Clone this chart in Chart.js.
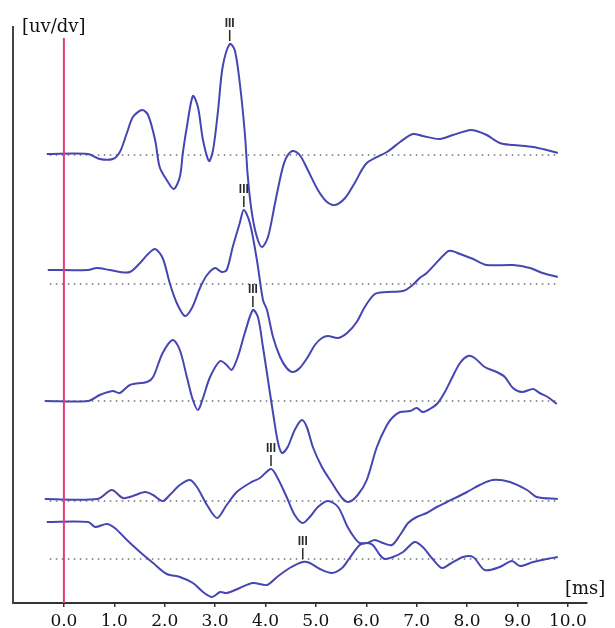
<!DOCTYPE html>
<html>
<head>
<meta charset="utf-8">
<script src="https://cdn.jsdelivr.net/npm/chart.js@4"></script>
<style>
  html, body { margin: 0; padding: 0; background: #ffffff; }
  #wrap { position: relative; width: 615px; height: 628px; }
</style>
</head>
<body>
<div id="wrap"><canvas id="c" width="615" height="628"></canvas></div>
<script>
// ---- Data (latency in ms, amplitude in arbitrary µV/div units relative to each trace baseline) ----
const xTickValues = [0, 1, 2, 3, 4, 5, 6, 7, 8, 9, 10];
const xTickLabels = ['0.0','1.0','2.0','3.0','4.0','5.0','6.0','7.0','8.0','9.0','10.0'];

const traceBaselines = [44.8, 31.9, 20.2, 10.2, 4.4];

const trace1T = [-0.34,0.48,0.71,0.97,1.11,1.25,1.37,1.55,1.67,1.81,1.90,2.04,2.18,2.30,2.36,2.44,2.56,2.66,2.76,2.88,2.96,3.06,3.15,3.29,3.39,3.49,3.59,3.65,3.73,3.83,3.93,4.05,4.19,4.33,4.42,4.54,4.68,4.84,5.04,5.22,5.38,5.58,5.77,6.01,6.41,6.67,6.92,7.12,7.46,7.72,8.06,8.19,8.39,8.65,8.91,9.31,9.58,9.80];
const trace1A = [0.1,0.1,-0.4,-0.4,0.3,2.2,3.8,4.5,4.0,1.5,-1.2,-2.5,-3.4,-2.2,0.2,2.8,5.9,4.8,1.5,-0.6,0.5,4.5,8.8,11.1,10.5,7.2,2.2,-2.2,-5.8,-8.2,-9.2,-8.2,-4.8,-1.5,-0.2,0.4,0.0,-1.5,-3.5,-4.7,-5.0,-4.3,-2.8,-0.8,0.3,1.3,2.1,1.9,1.6,2.0,2.5,2.4,2.0,1.2,1.0,0.8,0.5,0.2];

const trace2T = [-0.32,0.48,0.65,0.91,1.11,1.31,1.51,1.67,1.81,1.96,2.10,2.24,2.40,2.54,2.70,2.84,3.00,3.13,3.23,3.35,3.49,3.57,3.69,3.83,3.95,4.03,4.15,4.29,4.42,4.54,4.68,4.84,4.98,5.12,5.24,5.44,5.62,5.81,5.97,6.17,6.41,6.73,6.92,7.06,7.20,7.60,7.70,7.86,8.12,8.39,8.91,9.25,9.50,9.80];
const trace2A = [1.4,1.4,1.6,1.4,1.2,1.2,2.1,3.0,3.5,2.6,0.1,-1.9,-3.2,-2.4,-0.4,0.9,1.6,1.2,1.4,3.7,6.1,7.4,6.1,2.4,-1.6,-2.6,-5.3,-7.3,-8.4,-8.8,-8.4,-7.3,-6.1,-5.4,-5.2,-5.4,-4.9,-3.8,-2.3,-1.0,-0.8,-0.7,-0.1,0.6,1.1,3.2,3.3,3.0,2.5,1.9,1.9,1.6,1.1,0.7];

const trace3T = [-0.38,0.48,0.71,0.97,1.11,1.31,1.65,1.77,1.96,2.16,2.30,2.44,2.56,2.66,2.76,2.90,3.10,3.23,3.33,3.45,3.59,3.75,3.85,3.95,4.05,4.15,4.25,4.33,4.44,4.58,4.72,4.82,4.94,5.12,5.32,5.52,5.65,5.83,6.01,6.21,6.41,6.53,6.67,6.87,7.00,7.12,7.26,7.42,7.56,7.70,7.86,8.02,8.15,8.35,8.59,8.75,8.91,9.09,9.31,9.44,9.60,9.78];
const trace3A = [0,0,0.6,1.0,0.8,1.6,1.9,2.4,4.8,6.1,5.1,2.4,0.1,-0.9,0.3,2.4,4.0,3.6,3.1,4.4,6.8,9.1,8.4,5.4,2.1,-1.2,-4.2,-5.2,-4.6,-2.9,-1.9,-2.6,-4.6,-6.6,-8.2,-9.7,-10.1,-9.4,-7.9,-4.6,-2.4,-1.6,-1.1,-1.0,-0.7,-1.1,-0.8,-0.2,0.9,2.3,3.8,4.5,4.3,3.4,2.9,2.4,1.3,0.9,1.2,0.8,0.4,-0.3];

const trace4T = [-0.38,0.67,0.95,1.17,1.37,1.61,1.77,1.96,2.10,2.30,2.50,2.64,2.84,3.04,3.23,3.43,3.69,3.89,4.11,4.23,4.42,4.58,4.74,4.88,5.04,5.24,5.44,5.63,5.77,5.87,6.01,6.17,6.33,6.51,6.67,6.83,7.00,7.20,7.40,7.60,8.00,8.25,8.51,8.85,9.19,9.38,9.80];
const trace4A = [0.2,0.2,1.1,0.3,0.5,0.9,0.6,0.0,0.6,1.6,2.1,1.4,-0.4,-1.7,-0.4,0.9,1.8,2.3,3.2,2.4,0.4,-1.4,-2.2,-1.6,-0.6,0.0,-0.6,-2.6,-3.7,-4.2,-4.2,-3.9,-4.2,-4.4,-3.4,-2.2,-1.6,-1.2,-0.6,-0.1,0.9,1.6,2.1,1.9,1.1,0.4,0.2];

const trace5T = [-0.34,0.48,0.62,0.85,1.01,1.25,1.51,1.77,2.04,2.30,2.56,2.76,2.94,3.10,3.23,3.49,3.75,4.03,4.23,4.48,4.74,4.88,5.08,5.32,5.52,5.67,5.87,6.01,6.13,6.27,6.37,6.53,6.73,6.96,7.12,7.30,7.50,7.66,7.92,8.12,8.35,8.65,8.89,9.05,9.31,9.58,9.80];
const trace5A = [3.7,3.7,3.2,3.5,3.1,1.9,0.7,-0.4,-1.5,-1.8,-2.4,-3.3,-3.8,-3.3,-3.4,-2.9,-2.4,-2.6,-1.8,-0.9,-0.3,-0.4,-1.0,-1.4,-0.9,0.1,1.4,1.6,1.4,0.4,0.0,0.2,0.7,1.7,1.2,0.1,-0.9,-0.5,0.2,0.2,-1.1,-0.8,-0.2,-0.7,-0.3,0.0,0.2];

const waveIIILatency = [3.29, 3.57, 3.75, 4.11, 4.74];
const waveIIIAmp = [11.1, 7.4, 9.1, 3.2, -0.3];
const waveLabel = 'III';

const baselineSpan = [-0.28, 9.78];
const stimulusTime = 0;
const stimulusSpan = [0, 56.5];

const yRange = [0, 57.6];
const xRange = [-1.01, 10.38];

const yAxisTitle = '[uv/dv]';
const xAxisTitle = '[ms]';

// ---- Build datasets ----
const traceTimes = [trace1T, trace2T, trace3T, trace4T, trace5T];
const traceAmps = [trace1A, trace2A, trace3A, trace4A, trace5A];

const TRACE_COLOR = '#4646b2';
const datasets = [];

datasets.push({
  label: 'stimulus',
  data: stimulusSpan.map(v => ({ x: stimulusTime, y: v })),
  borderColor: '#e23a7c',
  borderWidth: 2,
  pointRadius: 0,
  tension: 0
});

traceTimes.forEach((ts, i) => {
  datasets.push({
    label: 'trace' + (i + 1),
    data: ts.map((t, k) => ({ x: t, y: traceBaselines[i] + traceAmps[i][k] })),
    borderColor: TRACE_COLOR,
    borderWidth: 2,
    pointRadius: 0,
    tension: 0.3
  });
});

traceBaselines.forEach((b, i) => {
  datasets.push({
    label: 'baseline' + (i + 1),
    data: baselineSpan.map(t => ({ x: t, y: b })),
    borderColor: '#6f6f6f',
    borderWidth: 1.5,
    borderDash: [1.5, 4.5],
    pointRadius: 0,
    tension: 0
  });
});

// ---- Plugin: wave III markers and axis unit labels ----
const overlayPlugin = {
  id: 'overlay',
  afterDatasetsDraw(chart) {
    const ctx = chart.ctx;
    const xs = chart.scales.x, ys = chart.scales.y;
    ctx.save();
    ctx.fillStyle = '#2a2a2a';
    ctx.strokeStyle = '#2a2a2a';
    ctx.lineWidth = 1.5;
    ctx.font = 'bold 12px "Liberation Sans"';
    ctx.textAlign = 'center';
    ctx.textBaseline = 'bottom';
    waveIIILatency.forEach((t, i) => {
      const px = xs.getPixelForValue(t);
      const py = ys.getPixelForValue(traceBaselines[i] + waveIIIAmp[i]);
      ctx.beginPath();
      ctx.moveTo(px, py - 14);
      ctx.lineTo(px, py - 3);
      ctx.stroke();
      ctx.fillText(waveLabel, px, py - 14);
    });
    ctx.fillStyle = '#111111';
    ctx.font = '18px "DejaVu Serif"';
    ctx.textAlign = 'left';
    ctx.textBaseline = 'alphabetic';
    ctx.fillText(yAxisTitle, 22, 32);
    ctx.fillText(xAxisTitle, 565, 594);
    ctx.restore();
  }
};

new Chart(document.getElementById('c'), {
  type: 'line',
  data: { datasets },
  options: {
    responsive: false,
    animation: false,
    layout: { padding: { left: 13, right: 28, top: 27, bottom: 0 } },
    plugins: { legend: { display: false }, tooltip: { enabled: false } },
    scales: {
      x: {
        type: 'linear',
        min: xRange[0],
        max: xRange[1],
        afterBuildTicks(scale) { scale.ticks = xTickValues.map(v => ({ value: v })); },
        afterFit(scale) { scale.height = 25; },
        ticks: {
          autoSkip: false,
          maxRotation: 0,
          padding: 6,
          color: '#111111',
          font: { family: '"DejaVu Serif"', size: 17, lineHeight: 1 },
          callback(value) {
            const i = xTickValues.indexOf(value);
            return i >= 0 ? xTickLabels[i] : '';
          }
        },
        grid: { drawOnChartArea: false, drawTicks: true, tickLength: 4, color: '#333333', lineWidth: 1.5 },
        border: { display: true, color: '#333333', width: 2 }
      },
      y: {
        type: 'linear',
        min: yRange[0],
        max: yRange[1],
        ticks: { display: false },
        grid: { display: false, drawTicks: false },
        border: { display: true, color: '#444444', width: 2 }
      }
    }
  },
  plugins: [overlayPlugin]
});
</script>
</body>
</html>
